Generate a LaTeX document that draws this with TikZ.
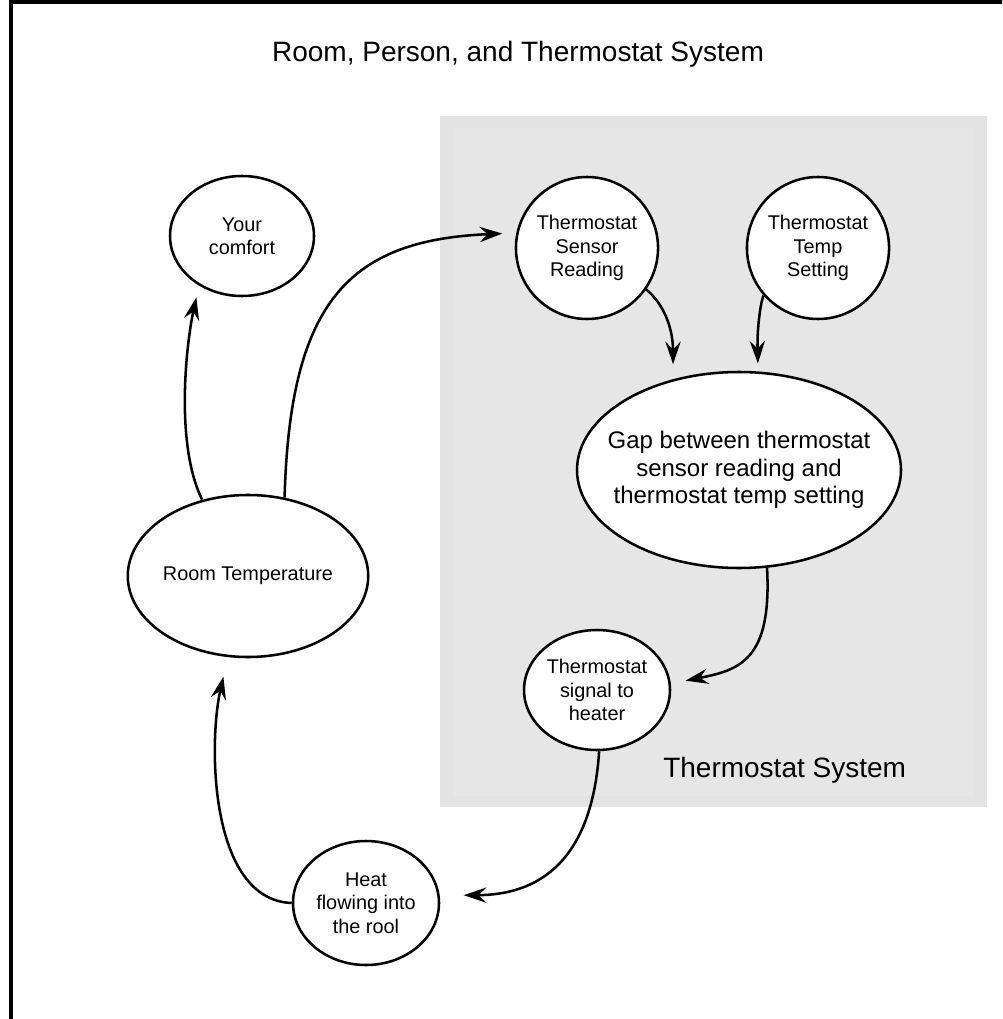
\documentclass[tikz,border=0pt]{standalone}
\usepackage{fontspec}
\setmainfont{Liberation Sans}
\usetikzlibrary{shapes.geometric,arrows.meta}
\definecolor{panel}{HTML}{E3E3E3}
\definecolor{panelin}{HTML}{E6E6E6}
\begin{document}
\begin{tikzpicture}[x=0.75pt,y=-0.75pt,
  bubble/.style={draw,ellipse,line width=1.9pt,fill=white,inner sep=0pt,
    align=center,font=\fontsize{14.9}{17.5}\selectfont},
  bigtext/.style={font=\fontsize{18}{20.5}\selectfont,inner xsep=-16pt},
  link/.style={line width=1.9pt,-{Stealth[length=17pt,width=11.5pt,inset=6pt]}},
  heading/.style={font=\fontsize{21}{25}\selectfont,inner sep=0pt}]
\useasboundingbox (0,0) rectangle (1002,1019);
\clip (0,0) rectangle (1002,1019);
\fill[white] (0,0) rectangle (1002,1019);
% outer frame
\draw[line width=2.5pt] (11,1030) -- (11,2) -- (1010,2);
% thermostat panel
\fill[panel] (440,116) rectangle (987,807);
\fill[panelin] (453,128) rectangle (974,796);
% titles
\node[heading,anchor=base] (title) at (518,62) {Room, Person, and Thermostat System};
\node[heading,anchor=base west] (paneltitle) at (663,777) {Thermostat System};
% nodes
\node[bubble,minimum width=108pt,minimum height=90pt] (comfort) at (242,236) {Your\\comfort};
\node[bubble,minimum width=97.5pt,minimum height=106.5pt] (sensor) at (587,248) {Thermostat\\Sensor\\Reading};
\node[bubble,minimum width=96pt,minimum height=106.5pt] (setting) at (818,248) {Thermostat\\Temp\\Setting};
\node[bubble,bigtext,minimum width=243pt,minimum height=147pt] (gap) at (739,470) {Gap between thermostat\\sensor reading and\\thermostat temp setting};
\node[bubble,minimum width=177pt,minimum height=121.5pt] (room) at (248,576) {Room Temperature};
\node[bubble,minimum width=109.5pt,minimum height=90pt] (signal) at (597,690) {Thermostat\\signal to\\heater};
\node[bubble,minimum width=109.5pt,minimum height=93pt] (heat) at (366,903) {Heat\\flowing into\\the rool};
% connectors
\draw[link,shorten >=9pt] (room.121) .. controls (175,445) and (186,345) .. (comfort.229);
\draw[link,shorten >=10.5pt] (room.65) .. controls (290,300) and (350,240) .. (sensor.168);
\draw[link,shorten >=11.25pt] (sensor.-35) .. controls (665,305) and (673,330) .. (gap.126);
\draw[link,shorten >=6pt] (setting.221) .. controls (760,305) and (757,330) .. (gap.79);
\draw[link,shorten >=11.25pt] (gap.-74) .. controls (772,660) and (740,670) .. (signal.5);
\draw[link,shorten >=18pt] (signal.-88) .. controls (592,860) and (540,895) .. (heat.6);
\draw[link,shorten >=15pt] (heat.180) .. controls (210,900) and (208,745) .. (room.-104);
\end{tikzpicture}
\end{document}
